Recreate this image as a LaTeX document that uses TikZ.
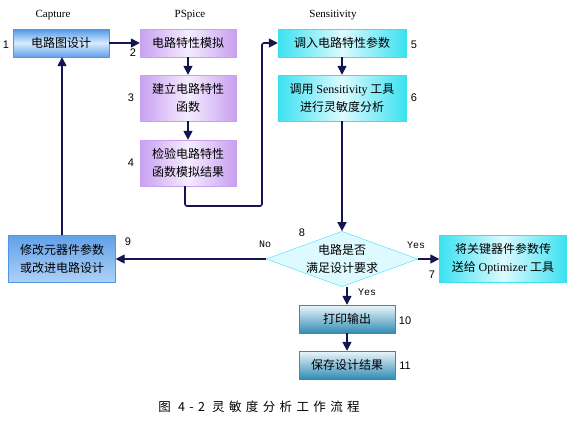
\documentclass[tikz,border=0pt]{standalone}
\usepackage{fontspec}
\setmainfont{Noto Sans CJK SC}
\newfontfamily\latserif{Liberation Serif}
\newfontfamily\latsans{Liberation Sans}
\newfontfamily\latmono{Liberation Mono}
\newfontfamily\capfont[LetterSpace=35]{Noto Sans CJK SC}
\usepackage{tikz}
\usetikzlibrary{shapes.geometric,arrows.meta}

\definecolor{navy}{RGB}{20,20,80}
\definecolor{blueedge}{RGB}{80,150,230}
\definecolor{bluelight}{RGB}{215,235,255}
\definecolor{violetedge}{RGB}{200,160,240}
\definecolor{violetlight}{RGB}{245,236,255}
\definecolor{cyanedge}{RGB}{60,225,240}
\definecolor{cyanlight}{RGB}{220,250,255}
\definecolor{tealdark}{RGB}{50,140,180}
\definecolor{teallight}{RGB}{235,246,252}

\begin{document}
\begin{tikzpicture}
				[x=1pt,y=-1pt,
				font=\fontsize{12}{18}\selectfont,
				every box/.style={inner sep=0pt,align=center,minimum width=96pt,minimum height=28pt},
				bluebox/.style={every box,draw=blueedge,top color=blueedge,bottom color=blueedge!90,middle color=bluelight},
				blueplain/.style={every box,draw=blueedge,top color=blueedge!90,bottom color=bluelight!70!blueedge},
				violetbox/.style={every box,draw=violetedge,left color=violetedge,right color=violetedge,middle color=violetlight},
				cyanbox/.style={every box,draw=cyanedge,left color=cyanedge,right color=cyanedge,middle color=cyanlight},
				tealbox/.style={every box,draw=tealdark,top color=teallight,bottom color=tealdark},
				decision/.style={diamond,draw=cyanedge,fill=cyanlight,inner sep=0pt,aspect=2.74,align=center,
					minimum width=148pt,minimum height=54pt},
				flow/.style={draw=navy,line width=1.6pt,-{Triangle[length=9pt,width=9pt]}},
				step no/.style={font=\latsans\fontsize{11}{13}\selectfont},
				answer/.style={font=\latmono\fontsize{10}{12}\selectfont}]

				\useasboundingbox (0,0) rectangle (573,421);

				% column titles
				\node[font=\latserif\fontsize{11}{13}\selectfont] (capture) at (53,15) {Capture};
				\node[font=\latserif\fontsize{11}{13}\selectfont] (pspice) at (190,15) {PSpice};
				\node[font=\latserif\fontsize{11}{13}\selectfont] (sensitivity) at (333,15) {Sensitivity};

				% boxes
				\node[bluebox] (design) at (61,43) {电路图设计};
				\node[violetbox] (sim) at (188,43) {电路特性模拟};
				\node[violetbox,minimum height=46pt] (func) at (188,98) {建立电路特性\\函数};
				\node[violetbox,minimum height=46pt] (check) at (188,163) {检验电路特性\\函数模拟结果};
				\node[cyanbox,minimum width=128pt] (load) at (342,43) {调入电路特性参数};
				\node[cyanbox,minimum width=128pt,minimum height=46pt] (sens) at (342,98)
					{调用 {\latserif Sensitivity} 工具\\进行灵敏度分析};
				\node[decision] (ok) at (342,259) {电路是否\\满足设计要求};
				\node[cyanbox,minimum width=127pt,minimum height=47pt] (opt) at (503,259)
					{将关键器件参数传\\送给 {\latserif Optimizer} 工具};
				\node[blueplain,minimum width=107pt,minimum height=47pt] (revise) at (62,259)
					{修改元器件参数\\或改进电路设计};
				\node[tealbox] (print) at (347,319) {打印输出};
				\node[tealbox] (save) at (347,365) {保存设计结果};

				% step numbers
				\node[step no] (n1) at (6,45) {1};
				\node[step no] (n2) at (133,53) {2};
				\node[step no] (n3) at (131,98) {3};
				\node[step no] (n4) at (131,163) {4};
				\node[step no] (n5) at (414,45) {5};
				\node[step no] (n6) at (414,98) {6};
				\node[step no] (n7) at (432,275) {7};
				\node[step no] (n8) at (302,233) {8};
				\node[step no] (n9) at (128,242) {9};
				\node[step no] (n10) at (405,321) {10};
				\node[step no] (n11) at (405,366) {11};

				% connectors
				\coordinate (bend) at (262,206);
				\draw[flow] (design) -- (sim);
				\draw[flow] (sim) -- (func);
				\draw[flow] (func) -- (check);
				\draw[flow,rounded corners=2pt] ([xshift=-3pt]check.south) |- (bend) |- (load.west);
				\draw[flow] (load) -- (sens);
				\draw[flow] (sens) -- (ok);
				\draw[flow] (ok.west) -- (revise.east);
				\draw[flow] (ok.east) -- (opt.west);
				\draw[flow] (ok.south -| print) -- (print);
				\draw[flow] (print) -- (save);
				\draw[flow] (revise.north) -- (revise.north |- design.south);

				\node[answer] (no) at (265,244) {No};
				\node[answer] (yes right) at (416,245) {Yes};
				\node[answer] (yes down) at (367,292) {Yes};

				% caption
				\node[font=\capfont\fontsize{12.5}{14}\selectfont] (caption) at (259,407) {图 4-2 灵敏度分析工作流程};
			\end{tikzpicture}
\end{document}
